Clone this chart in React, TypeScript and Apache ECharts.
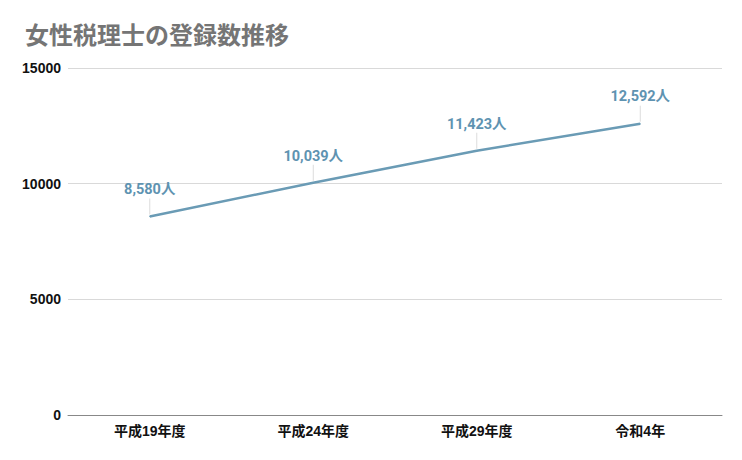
import React, { useEffect, useRef } from "react";
import * as echarts from "echarts";

const categories = ["平成19年度", "平成24年度", "平成29年度", "令和4年"];
const values = [8580, 10039, 11423, 12592];
const yTicks = [0, 5000, 10000, 15000];

export default function App() {
  const ref = useRef<HTMLDivElement>(null);
  useEffect(() => {
    const chart = echarts.init(ref.current!, null, { renderer: "svg" });
    chart.setOption({
      animation: false,
      backgroundColor: "#ffffff",
      title: {
        text: "女性税理士の登録数推移",
        left: 20,
        top: 16,
        textStyle: {
          fontFamily: "Noto Sans CJK JP",
          fontWeight: "bold",
          fontSize: 24,
          color: "#757575",
        },
      },
      grid: { left: 68, right: 20, top: 68, bottom: 45 },
      xAxis: {
        type: "category",
        data: categories,
        boundaryGap: true,
        axisLine: { lineStyle: { color: "#888", width: 1 } },
        axisTick: { show: false },
        axisLabel: {
          color: "#111",
          fontWeight: "bold",
          fontSize: 14,
          fontFamily: "Liberation Sans, Noto Sans CJK JP",
          margin: 9,
        },
      },
      yAxis: {
        type: "value",
        min: yTicks[0],
        max: yTicks[yTicks.length - 1],
        interval: 5000,
        axisLine: { show: false },
        axisTick: { show: false },
        splitLine: { lineStyle: { color: "#d9d9d9", width: 1 } },
        axisLabel: {
          color: "#111",
          fontWeight: "bold",
          fontSize: 14,
          fontFamily: "Liberation Sans",
          margin: 7,
          formatter: (v: number) => String(v),
        },
      },
      series: [
        {
          type: "line",
          data: values,
          symbol: "circle",
          symbolSize: 1,
          showSymbol: true,
          itemStyle: { color: "#6a9bb5" },
          lineStyle: { color: "#6a9bb5", width: 2.5 },
          label: {
            show: true,
            position: "top",
            distance: 19,
            formatter: (p: any) => Number(p.value).toLocaleString("en-US") + "人",
            color: "#5e93b1",
            fontWeight: "bold",
            fontSize: 14.5,
            fontFamily: "Roboto, Noto Sans CJK JP",
          },
        },
        {
          type: "custom",
          data: values.map((v, i) => [i, v]),
          silent: true,
          renderItem: (params: any, api: any) => {
            const p = api.coord([api.value(0), api.value(1)]);
            return {
              type: "line",
              shape: { x1: p[0], y1: p[1] - 2, x2: p[0], y2: p[1] - 18 },
              style: { stroke: "#dcdcdc", lineWidth: 1 },
            };
          },
          z: 1,
        },
      ],
    });
    return () => chart.dispose();
  }, []);
  return (
    <div
      ref={ref}
      style={{ width: 742, height: 460, position: "absolute", left: 0, top: 0 }}
    />
  );
}
